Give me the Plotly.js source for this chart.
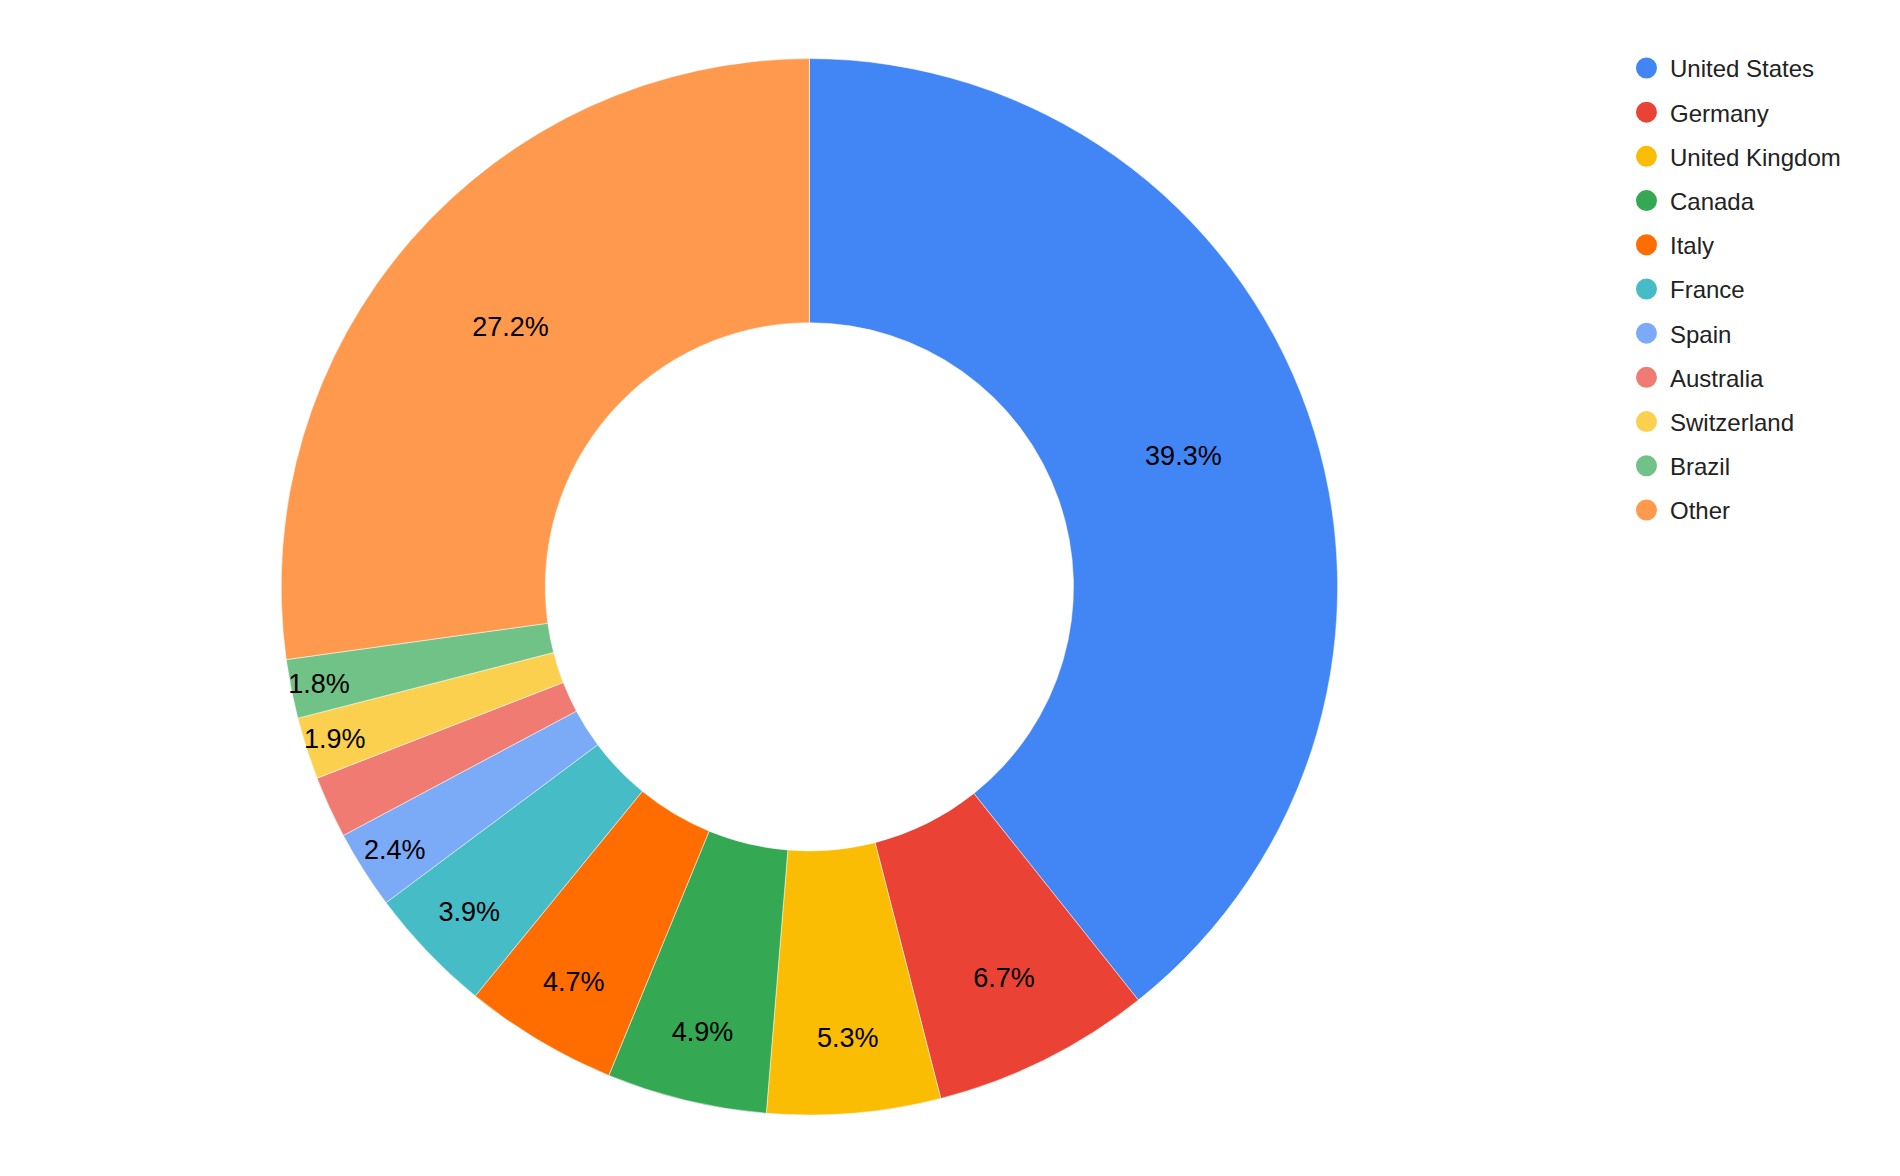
<!DOCTYPE html>
<html>
<head>
<meta charset="utf-8">
<script src="https://cdn.plot.ly/plotly-3.0.1.min.js"></script>
<style>html,body{margin:0;padding:0;background:#fff;}#chart{width:1900px;height:1176px;}</style>
</head>
<body>
<div id="chart"></div>
<script>
const countries = ["United States","Germany","United Kingdom","Canada","Italy","France","Spain","Australia","Switzerland","Brazil","Other"];
const shares = [39.3, 6.7, 5.3, 4.9, 4.7, 3.9, 2.4, 1.9, 1.9, 1.8, 27.2];
const colors = ["#4285F4","#EA4335","#FBBC04","#34A853","#FF6D01","#46BDC6","#7BAAF7","#F07B72","#FCD04F","#71C287","#FF994D"];
const showLabel = [true,true,true,true,true,true,true,false,true,true,true];

const FONT = "Arial, 'Liberation Sans', sans-serif";

const pie = {
  type: "pie",
  labels: countries,
  values: shares,
  sort: false,
  direction: "clockwise",
  rotation: 0,
  hole: 0.5,
  marker: {colors: colors, line: {color: "#ffffff", width: 0.5}},
  texttemplate: showLabel.map(s => s ? "%{percent:.1%}" : ""),
  textposition: "inside",
  insidetextorientation: "horizontal",
  textfont: {family: FONT, size: 27, color: "#000000"},
  showlegend: false,
  domain: {x: [0.148, 0.704], y: [0.051, 0.951]},
  hoverinfo: "label+percent"
};

const legendTraces = countries.map((c, i) => ({
  type: "scatter",
  mode: "markers",
  x: [null], y: [null],
  name: c,
  legendgroup: "g" + i,
  marker: {symbol: "circle", size: 24, color: colors[i], line: {color: colors[i], width: 5}},
  showlegend: true,
  hoverinfo: "skip"
}));

const layout = {
  width: 1900, height: 1176,
  margin: {l: 0, r: 0, t: 0, b: 0},
  paper_bgcolor: "#ffffff",
  plot_bgcolor: "#ffffff",
  font: {family: FONT, color: "#222222"},
  uniformtext: {mode: "show", minsize: 27},
  xaxis: {visible: false, showgrid: false, zeroline: false},
  yaxis: {visible: false, showgrid: false, zeroline: false},
  showlegend: true,
  legend: {
    x: 0.8542, xanchor: "left",
    y: 0.961, yanchor: "top",
    font: {family: FONT, size: 24, color: "#222222"},
    tracegroupgap: 10,
    itemsizing: "trace",
    itemwidth: 37,
    bgcolor: "rgba(0,0,0,0)"
  }
};

Plotly.newPlot("chart", [pie].concat(legendTraces), layout, {displayModeBar: false, staticPlot: true});
</script>
</body>
</html>
